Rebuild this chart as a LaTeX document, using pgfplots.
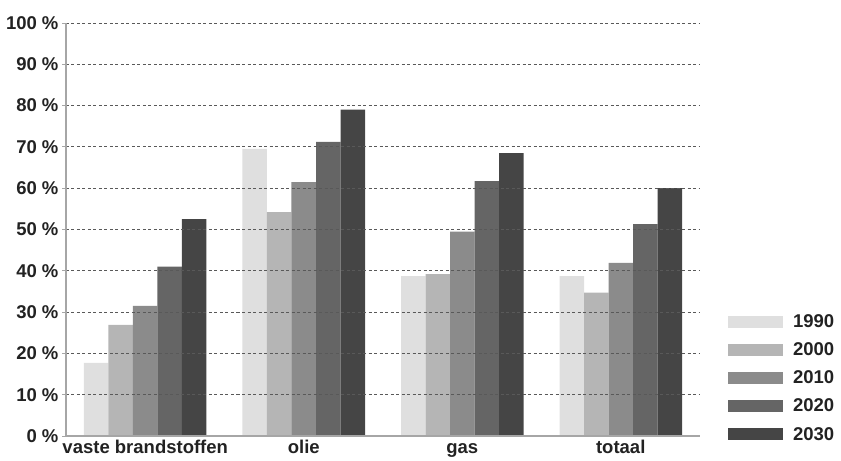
\documentclass[border=0pt]{standalone}
\usepackage{pgfplots}
\pgfplotsset{compat=1.18}
\usepackage{fontspec}
\setmainfont{Liberation Sans}

\definecolor{c1990}{HTML}{DFDFDF}
\definecolor{c2000}{HTML}{B5B5B5}
\definecolor{c2010}{HTML}{8B8B8B}
\definecolor{c2020}{HTML}{656565}
\definecolor{c2030}{HTML}{454545}
\definecolor{txt}{HTML}{222222}

\begin{document}
\begin{tikzpicture}
\begin{axis}[
    scale only axis,
    width=634pt, height=413pt,
    clip=false,
    axis on top,
    ybar=0pt,
    bar width=24.5pt,
    xmin=-0.5, xmax=3.5,
    ymin=0, ymax=100,
    axis lines*=left,
    axis line style={draw=gray!70, line width=1.2pt},
    xtick={0,1,2,3},
    xticklabels={vaste brandstoffen, olie, gas, totaal},
    x tick style={draw=none},
    extra x ticks={1.5,2.5},
    extra x tick labels={},
    extra x tick style={major tick length=4pt, tick align=outside, tick style={draw=gray!70, line width=0.6pt}},
    ytick={0,10,...,100},
    yticklabel={\pgfmathprintnumber{\tick} \%},
    /pgf/number format/assume math mode=true,
    y tick style={draw=gray!70, line width=1pt},
    major tick length=4pt,
    tick align=outside,
    ymajorgrids,
    grid style={draw=black!65, line width=1pt, dash pattern=on 3pt off 2.5pt},
    ticklabel style={font=\fontsize{18.5}{20}\selectfont\bfseries, text=txt},
    x tick label style={yshift=3pt, text height=13pt, text depth=4pt},
    legend style={at={(rel axis cs:1.044,0.30)}, anchor=north west,
        draw=none, fill=none, inner sep=0pt,
        font=\fontsize{18.5}{20}\selectfont\bfseries, text=txt,
        row sep=9.8pt, cells={anchor=west},
        /tikz/every odd column/.append style={column sep=8pt}},
    legend image code/.code={\fill[#1,draw=none] (0pt,-6pt) rectangle (55pt,6pt);},
]
\addplot[fill=c1990, draw=none] coordinates {(0,17.7) (1,69.5) (2,38.7) (3,38.7)};
\addplot[fill=c2000, draw=none] coordinates {(0,26.9) (1,54.2) (2,39.2) (3,34.7)};
\addplot[fill=c2010, draw=none] coordinates {(0,31.5) (1,61.5) (2,49.5) (3,41.9)};
\addplot[fill=c2020, draw=none] coordinates {(0,41.0) (1,71.2) (2,61.7) (3,51.3)};
\addplot[fill=c2030, draw=none] coordinates {(0,52.5) (1,79.0) (2,68.5) (3,60.0)};
\legend{1990,2000,2010,2020,2030}
\path (rel axis cs:-0.1041,-0.046) rectangle (rel axis cs:1.2224,1.0557);
\end{axis}
\end{tikzpicture}
\end{document}
